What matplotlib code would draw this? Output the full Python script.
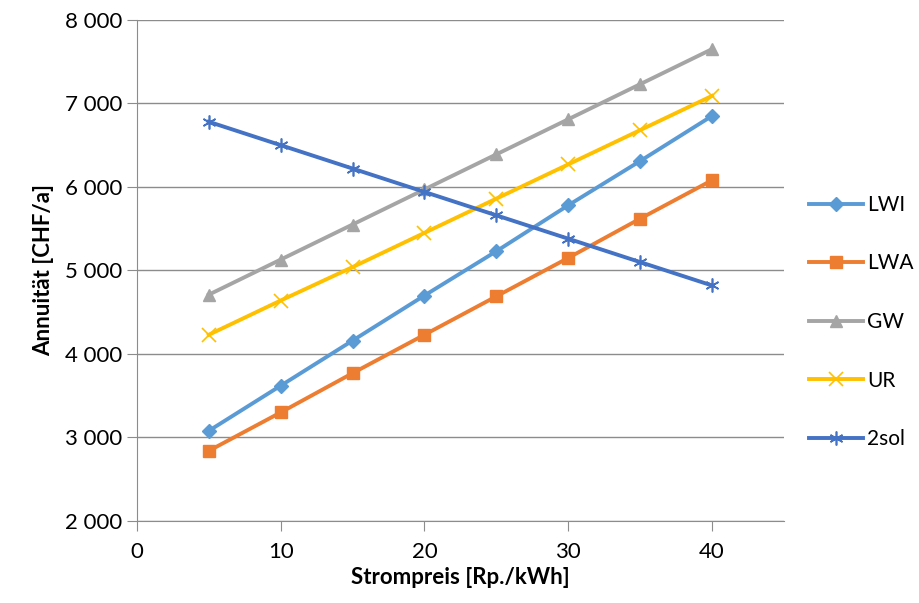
import matplotlib.pyplot as plt
from matplotlib.ticker import FuncFormatter

plt.rcParams['font.family'] = ['Lato', 'DejaVu Sans']

strompreis = [5, 10, 15, 20, 25, 30, 35, 40]
lwi = [3080, 3620, 4160, 4700, 5230, 5780, 6310, 6850]
lwa = [2840, 3300, 3770, 4230, 4690, 5150, 5620, 6080]
gw = [4710, 5130, 5550, 5970, 6390, 6810, 7230, 7650]
ur = [4230, 4640, 5040, 5450, 5860, 6270, 6680, 7090]
sol2 = [6780, 6500, 6220, 5940, 5660, 5380, 5100, 4820]

fig = plt.figure(figsize=(9.19, 6.03), dpi=100)
ax = fig.add_axes([0.149, 0.136, 0.704, 0.831])

ax.plot(strompreis, lwi, color='#5B9BD5', lw=2.8, marker='D', ms=7, label='LWI')
ax.plot(strompreis, lwa, color='#ED7D31', lw=2.8, marker='s', ms=9, label='LWA')
ax.plot(strompreis, gw, color='#A5A5A5', lw=2.8, marker='^', ms=9, label='GW')
ax.plot(strompreis, ur, color='#FFC000', lw=2.8, marker='x', ms=10, mew=1.2, label='UR')
ax.plot(strompreis, sol2, color='#4472C4', lw=2.8, marker=(6, 2, 0), ms=10, mew=1.2, label='2sol')

ax.set_xlim(0, 45)
ax.set_ylim(2000, 8000)
ax.set_xticks([0, 10, 20, 30, 40])
ax.set_yticks(range(2000, 8001, 1000))
ax.yaxis.set_major_formatter(FuncFormatter(lambda v, p: f'{int(v):,}'.replace(',', ' ')))
ax.grid(axis='y', color='#8c8c8c', lw=1)
ax.set_axisbelow(True)

for s in ['top', 'right']:
    ax.spines[s].set_visible(False)
for s in ['left', 'bottom']:
    ax.spines[s].set_color('#8c8c8c')
ax.tick_params(axis='both', colors='#8c8c8c', labelcolor='black', labelsize=16, length=7)
ax.tick_params(axis='x', pad=8)

ax.set_xlabel('Strompreis [Rp./kWh]', fontsize=16, fontweight='bold', labelpad=4)
ax.set_ylabel('Annuität [CHF/a]', fontsize=16, fontweight='bold', labelpad=8)

fig.legend(*ax.get_legend_handles_labels(), loc='center left',
           bbox_to_anchor=(0.88, 0.466), frameon=False, fontsize=15,
           labelspacing=1.85, handlelength=2.6, handletextpad=0.2,
           borderpad=0, borderaxespad=0)

fig.savefig('out.png', dpi=100)
